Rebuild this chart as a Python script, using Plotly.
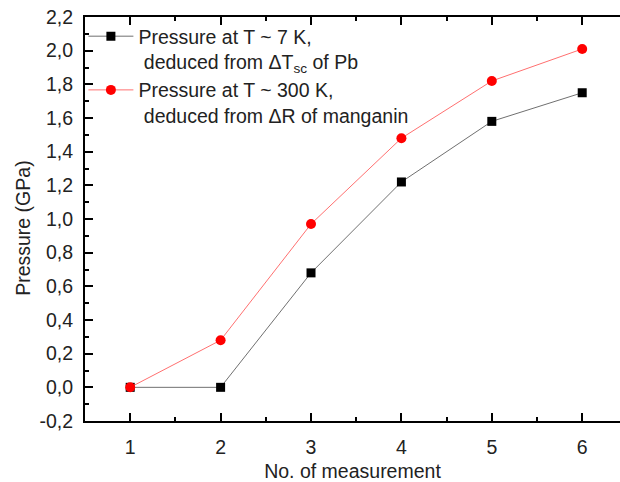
import plotly.graph_objects as go

# Measurement index and the two pressure estimates (GPa)
measurement = [1, 2, 3, 4, 5, 6]
p_low_T = [0.0, 0.0, 0.68, 1.22, 1.58, 1.75]      # T ~ 7 K, from Pb superconducting shift
p_room_T = [0.0, 0.28, 0.97, 1.48, 1.82, 2.01]    # T ~ 300 K, from manganin resistance

y_ticks = [-0.2, 0.0, 0.2, 0.4, 0.6, 0.8, 1.0, 1.2, 1.4, 1.6, 1.8, 2.0, 2.2]
y_tick_text = ["-0,2", "0,0", "0,2", "0,4", "0,6", "0,8", "1,0", "1,2",
               "1,4", "1,6", "1,8", "2,0", "2,2"]

FONT = "Liberation Sans, Arial, sans-serif"
TXT = "#222222"
FS = 19.5

fig = go.Figure()

fig.add_trace(go.Scatter(
    x=measurement, y=p_low_T, mode="lines+markers",
    name="Pressure at T ~ 7 K,<br>\u00a0deduced from \u0394T<sub>sc</sub> of Pb",
    line=dict(color="#707070", width=1),
    marker=dict(symbol="square", size=9, color="black"),
))
fig.add_trace(go.Scatter(
    x=measurement, y=p_room_T, mode="lines+markers",
    name="Pressure at T ~ 300 K,<br>\u00a0deduced from \u0394R of manganin",
    line=dict(color="#ff7070", width=1),
    marker=dict(symbol="circle", size=10, color="red"),
))

axis_common = dict(
    showline=True, linecolor="black", linewidth=2,
    ticks="inside", ticklen=8, tickwidth=2, tickcolor="black",
    showgrid=False, zeroline=False, automargin=False,
    tickfont=dict(family=FONT, size=FS, color=TXT),
)

fig.update_layout(
    width=620, height=482,
    margin=dict(l=85, r=0, t=17, b=61),
    paper_bgcolor="white", plot_bgcolor="white",
    font=dict(family=FONT, size=FS, color=TXT),
    showlegend=True,
    legend=dict(
        x=-0.003, y=1.0, xanchor="left", yanchor="top",
        bgcolor="rgba(0,0,0,0)", borderwidth=0,
        font=dict(family=FONT, size=FS, color=TXT),
        itemwidth=45, valign="top", tracegroupgap=0,
    ),
    xaxis=dict(
        **axis_common,
        range=[0.5, 6.418], tickmode="array", tickvals=measurement,
        ticktext=[str(m) for m in measurement],
        mirror="ticks",
        minor=dict(ticks="inside", ticklen=4, tickwidth=1.5, tickcolor="black", dtick=0.5, tick0=0.5),
        title=dict(text="No. of measurement", font=dict(family=FONT, size=FS, color=TXT), standoff=12),
        ticklabelstandoff=8,
    ),
    yaxis=dict(
        **axis_common,
        range=[-0.2, 2.2], tickmode="array", tickvals=y_ticks, ticktext=y_tick_text,
        minor=dict(ticks="inside", ticklen=4, tickwidth=1.5, tickcolor="black", dtick=0.1, tick0=0),
        ticklabelstandoff=6,
    ),
    yaxis2=dict(
        overlaying="y", side="right", matches="y", range=[-0.2, 2.2],
        showline=False, showgrid=False, zeroline=False, automargin=False,
        tickmode="array", tickvals=y_ticks, showticklabels=False,
        ticks="inside", ticklen=2, tickwidth=1.5, tickcolor="#888888",
    ),
)

# Vertical axis title placed to the left of the tick labels
fig.add_annotation(
    text="Pressure (GPa)", textangle=-90, showarrow=False,
    xref="paper", yref="paper", x=-0.116, y=0.478,
    xanchor="center", yanchor="middle",
    font=dict(family=FONT, size=FS, color=TXT),
)

fig.write_html("out.html")
